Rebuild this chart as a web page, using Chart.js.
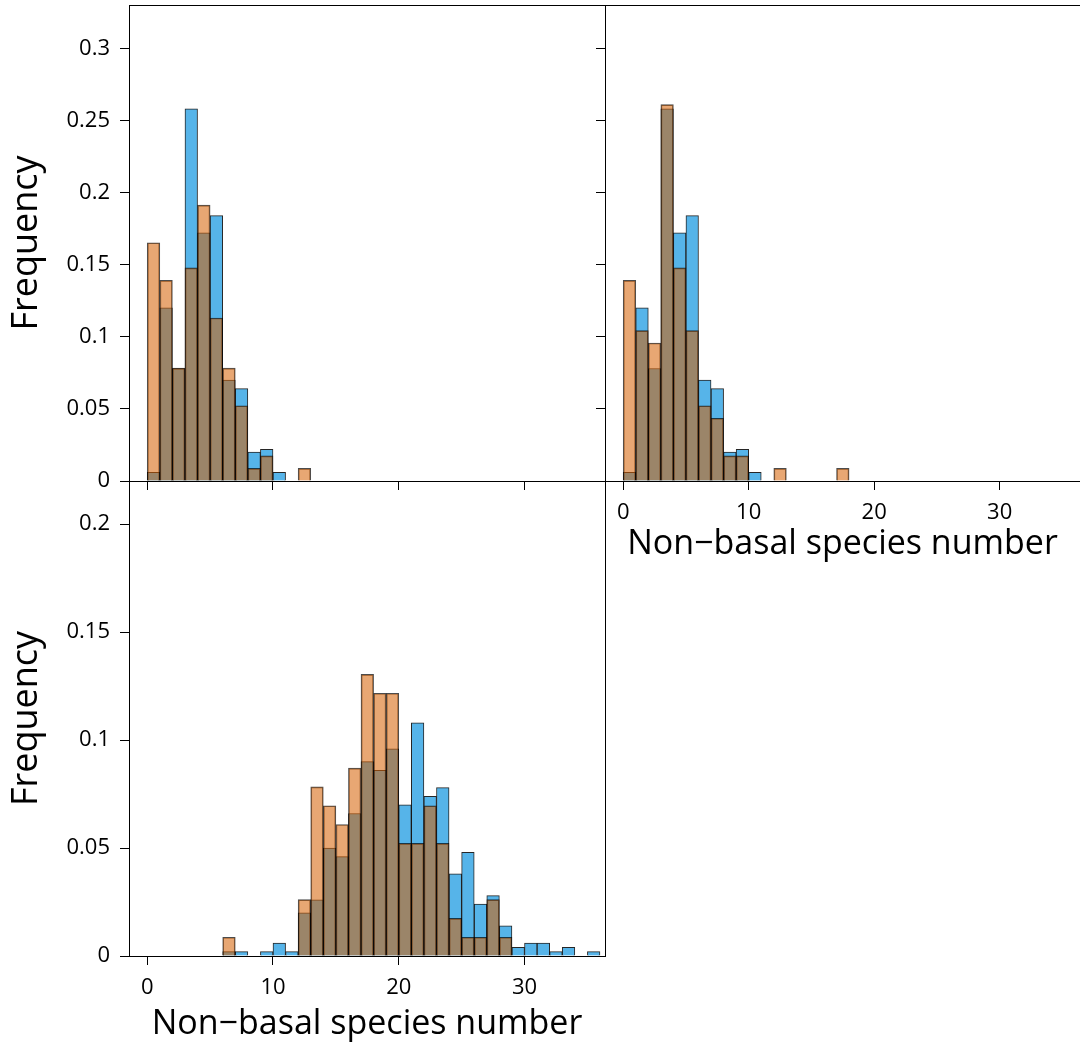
<!DOCTYPE html>
<html>
<head>
<meta charset="utf-8">
<title>Non-basal species number histograms</title>
<script src="https://cdn.jsdelivr.net/npm/chart.js@4.4.1/dist/chart.umd.min.js"></script>
<style>
  html, body { margin: 0; padding: 0; background: #fff; }
  #wrap { position: relative; width: 1080px; height: 1045px; overflow: hidden; }
  canvas { position: absolute; }
</style>
</head>
<body>
<div id="wrap">
  <canvas id="topLeft" width="610" height="495" style="left:0;top:0"></canvas>
  <canvas id="topRight" width="490" height="565" style="left:590px;top:0"></canvas>
  <canvas id="bottomLeft" width="610" height="575" style="left:0;top:470px"></canvas>
</div>
<script>
// left edges of the unit-width bins
const bins = [0, 1, 2, 3, 4, 5, 6, 7, 8, 9, 10, 11, 12, 13, 14, 15, 16, 17,
              18, 19, 20, 21, 22, 23, 24, 25, 26, 27, 28, 29, 30, 31, 32, 33, 34, 35];

// blue: reference distribution, shared by both top panels
const topBlue = [0.006, 0.12, 0.078, 0.258, 0.172, 0.184, 0.07, 0.064, 0.02, 0.022, 0.006, 0,
                 0, 0, 0, 0, 0, 0, 0, 0, 0, 0, 0, 0, 0, 0, 0, 0, 0, 0, 0, 0, 0, 0, 0, 0];
// orange, top left
const topLeftOrange = [0.1652, 0.1391, 0.0783, 0.1478, 0.1913, 0.1130, 0.0783, 0.0522, 0.0087, 0.0174, 0, 0,
                       0.0087, 0, 0, 0, 0, 0, 0, 0, 0, 0, 0, 0, 0, 0, 0, 0, 0, 0, 0, 0, 0, 0, 0, 0];
// orange, top right
const topRightOrange = [0.1391, 0.1043, 0.0957, 0.2609, 0.1478, 0.1043, 0.0522, 0.0435, 0.0174, 0.0174, 0, 0,
                        0.0087, 0, 0, 0, 0, 0.0087, 0, 0, 0, 0, 0, 0, 0, 0, 0, 0, 0, 0, 0, 0, 0, 0, 0, 0];
// bottom panel
const bottomBlue = [0, 0, 0, 0, 0, 0, 0.002, 0.002, 0, 0.002, 0.006, 0.002,
                    0.02, 0.026, 0.05, 0.046, 0.066, 0.09, 0.086, 0.096, 0.07, 0.108, 0.074, 0.078,
                    0.038, 0.048, 0.024, 0.028, 0.014, 0.004, 0.006, 0.006, 0.002, 0.004, 0, 0.002];
const bottomOrange = [0, 0, 0, 0, 0, 0, 0.0087, 0, 0, 0, 0, 0,
                      0.0261, 0.0783, 0.0696, 0.0609, 0.0870, 0.1304, 0.1217, 0.1217, 0.0522, 0.0522, 0.0696, 0.0522,
                      0.0174, 0.0087, 0.0087, 0.0261, 0.0087, 0, 0, 0, 0, 0, 0, 0];

const xTicks = [0, 10, 20, 30];
const xTitle = 'Non\u2212basal species number';
const yTitle = 'Frequency';

Chart.defaults.font.family = "'Open Sans', 'Noto Sans', sans-serif";
Chart.defaults.color = '#000';

const BLUE = '#56B4E9';
const ORANGE = 'rgba(213, 94, 0, 0.55)';

// box around the plotting area
const frame = {
  id: 'frame',
  afterDatasetsDraw(chart) {
    const { ctx, chartArea: a } = chart;
    ctx.save();
    ctx.strokeStyle = '#000';
    ctx.lineWidth = 1;
    ctx.strokeRect(Math.round(a.left) + 0.5, Math.round(a.top) + 0.5,
                   Math.round(a.right - a.left), Math.round(a.bottom - a.top));
    ctx.restore();
  }
};

function toPoints(values) {
  return bins.map((b, i) => ({ x: b + 0.5, y: values[i] }));
}

function xAxis(showLabels, height, titlePad) {
  return {
    type: 'linear',
    min: -1.45,
    max: 36.4,
    offset: false,
    border: { display: false },
    grid: { offset: false, drawOnChartArea: false, drawTicks: true, tickLength: 9, color: '#000', lineWidth: 1 },
    afterBuildTicks: s => { s.ticks = xTicks.map(v => ({ value: v })); },
    ticks: { display: showLabels, padding: 10, maxRotation: 0, font: { size: 22 } },
    title: { display: showLabels, text: xTitle, font: { size: 34 }, padding: { top: 0, bottom: titlePad } },
    afterFit: s => { s.height = height; s.paddingLeft = 0; s.paddingRight = 0; }
  };
}

function yAxis(max, showLabels, width) {
  return {
    type: 'linear',
    min: 0,
    max: max,
    border: { display: false },
    grid: { drawOnChartArea: false, drawTicks: true, tickLength: 9, color: '#000', lineWidth: 1 },
    ticks: {
      display: showLabels,
      stepSize: 0.05,
      includeBounds: false,
      padding: 10,
      font: { size: 22 },
      callback: v => String(+v.toFixed(3))
    },
    title: { display: showLabels, text: yTitle, font: { size: 36 }, padding: { top: 5, bottom: 0 } },
    afterFit: s => { s.width = width; s.paddingTop = 0; s.paddingBottom = 0; }
  };
}

function makePanel(id, blue, orange, opts) {
  return new Chart(document.getElementById(id), {
    type: 'bar',
    data: {
      datasets: [
        { label: 'blue', data: toPoints(blue), backgroundColor: BLUE,
          borderColor: 'rgba(0, 0, 0, 0.85)', borderWidth: 1, order: 2 },
        { label: 'orange', data: toPoints(orange), backgroundColor: ORANGE,
          borderColor: 'rgba(0, 0, 0, 0.7)', borderWidth: 1, order: 1 }
      ]
    },
    options: {
      responsive: false,
      animation: false,
      devicePixelRatio: 1,
      layout: { padding: opts.padding },
      datasets: { bar: { grouped: false, barPercentage: 1, categoryPercentage: 1 } },
      plugins: { legend: { display: false }, tooltip: { enabled: false } },
      scales: { x: opts.x, y: opts.y }
    },
    plugins: [frame]
  });
}

makePanel('topLeft', topBlue, topLeftOrange, {
  padding: { top: 5, right: 5, left: 0, bottom: 0 },
  x: xAxis(false, 14, 0),
  y: yAxis(0.33, true, 129)
});

makePanel('topRight', topBlue, topRightOrange, {
  padding: { top: 5, right: 0, left: 0, bottom: 0 },
  x: xAxis(true, 84, 0),
  y: yAxis(0.33, false, 15)
});

makePanel('bottomLeft', bottomBlue, bottomOrange, {
  padding: { top: 11, right: 5, left: 0, bottom: 0 },
  x: xAxis(true, 89, 0),
  y: yAxis(0.22, true, 129)
});
</script>
</body>
</html>
